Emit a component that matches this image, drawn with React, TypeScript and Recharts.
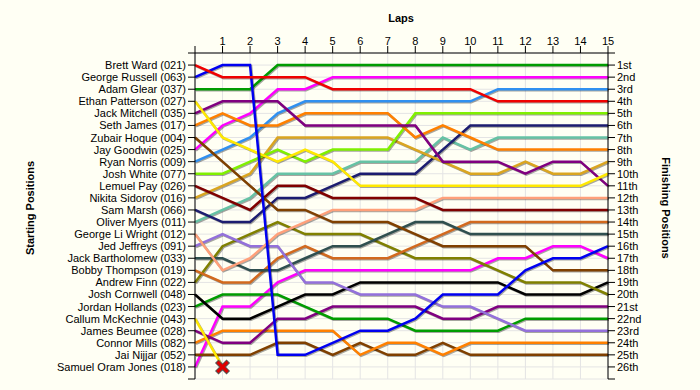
import { CartesianGrid, Line, LineChart, XAxis, YAxis } from "recharts";

const FONT = "'Liberation Sans', Arial, sans-serif";

const laps = [0, 1, 2, 3, 4, 5, 6, 7, 8, 9, 10, 11, 12, 13, 14, 15];
const positionTicks = [0, 1, 2, 3, 4, 5, 6, 7, 8, 9, 10, 11, 12, 13, 14, 15, 16, 17, 18, 19, 20, 21, 22, 23, 24, 25, 26, 27];

const startingNames = [
  "Brett Ward (021)",
  "George Russell (063)",
  "Adam Glear (037)",
  "Ethan Patterson (027)",
  "Jack Mitchell (035)",
  "Seth James (017)",
  "Zubair Hoque (004)",
  "Jay Goodwin (025)",
  "Ryan Norris (009)",
  "Josh White (077)",
  "Lemuel Pay (026)",
  "Nikita Sidorov (016)",
  "Sam Marsh (066)",
  "Oliver Myers (011)",
  "George Li Wright (012)",
  "Jed Jeffreys (091)",
  "Jack Bartholomew (033)",
  "Bobby Thompson (019)",
  "Andrew Finn (022)",
  "Josh Cornwell (048)",
  "Jordan Hollands (023)",
  "Callum McKechnie (043)",
  "James Beumee (028)",
  "Connor Mills (082)",
  "Jai Nijjar (052)",
  "Samuel Oram Jones (018)",
];

const finishingLabels = [
  "1st", "2nd", "3rd", "4th", "5th", "6th", "7th", "8th", "9th", "10th",
  "11th", "12th", "13th", "14th", "15th", "16th", "17th", "18th", "19th", "20th",
  "21st", "22nd", "23rd", "24th", "25th", "26th",
];

// position after each lap (lap 0 = grid)
const ward = [1, 2, 2, 2, 2, 3, 3, 3, 3, 3, 3, 4, 4, 4, 4, 4];
const russell = [2, 1, 1, 25, 25, 24, 23, 23, 22, 20, 20, 20, 18, 17, 17, 16];
const glear = [3, 3, 3, 1, 1, 1, 1, 1, 1, 1, 1, 1, 1, 1, 1, 1];
const patterson = [4, 7, 8, 9, 8, 9, 11, 11, 11, 11, 11, 11, 11, 11, 11, 10];
const mitchell = [5, 4, 4, 4, 6, 6, 6, 6, 6, 9, 9, 9, 10, 9, 9, 11];
const seth = [6, 5, 6, 6, 5, 5, 5, 5, 7, 6, 7, 8, 8, 8, 8, 8];
const hoque = [7, 9, 11, 13, 13, 14, 14, 14, 15, 16, 16, 16, 16, 18, 18, 18];
const goodwin = [8, 6, 5, 3, 3, 2, 2, 2, 2, 2, 2, 2, 2, 2, 2, 2];
const norris = [9, 8, 7, 5, 4, 4, 4, 4, 4, 4, 4, 3, 3, 3, 3, 3];
const white = [10, 10, 9, 8, 9, 8, 8, 8, 5, 5, 5, 5, 5, 5, 5, 5];
const pay = [11, 12, 13, 11, 11, 12, 12, 12, 12, 13, 13, 13, 13, 13, 13, 13];
const sidorov = [12, 11, 10, 7, 7, 7, 7, 7, 8, 9, 10, 10, 9, 10, 10, 9];
const marsh = [13, 14, 14, 12, 12, 11, 10, 10, 10, 8, 6, 6, 6, 6, 6, 6];
const myers = [14, 13, 12, 10, 10, 10, 9, 9, 9, 7, 8, 7, 7, 7, 7, 7];
const liWright = [15, 18, 17, 15, 14, 13, 13, 13, 13, 12, 12, 12, 12, 12, 12, 12];
const jeffreys = [16, 15, 16, 16, 19, 19, 20, 20, 20, 21, 21, 22, 23, 23, 23, 23];
const bartholomew = [17, 17, 18, 18, 17, 16, 16, 15, 14, 14, 15, 15, 15, 15, 15, 15];
const thompson = [18, 19, 19, 17, 16, 17, 17, 17, 16, 15, 14, 14, 14, 14, 14, 14];
const finn = [19, 16, 15, 14, 15, 15, 15, 16, 17, 17, 17, 18, 19, 19, 19, 20];
const cornwell = [20, 22, 22, 21, 20, 20, 19, 19, 19, 19, 19, 19, 20, 20, 20, 19];
const hollands = [21, 20, 20, 20, 21, 22, 22, 22, 23, 23, 23, 23, 22, 22, 22, 22];
const mckechnie = [22, 26]; // out on lap 1
const beumee = [23, 24, 24, 22, 22, 21, 21, 21, 21, 22, 22, 21, 21, 21, 21, 21];
const mills = [24, 23, 23, 23, 23, 23, 25, 24, 24, 25, 24, 24, 24, 24, 24, 24];
const nijjar = [25, 25, 25, 24, 24, 25, 24, 25, 25, 24, 25, 25, 25, 25, 25, 25];
const oramJones = [26, 21, 21, 19, 18, 18, 18, 18, 18, 18, 18, 17, 17, 16, 16, 17];

const series = [
  { key: "ward", color: "#f00000", values: ward },
  { key: "russell", color: "#0000f0", values: russell },
  { key: "glear", color: "#009c00", values: glear },
  { key: "patterson", color: "#ffe800", values: patterson },
  { key: "mitchell", color: "#800080", values: mitchell },
  { key: "seth", color: "#ff8000", values: seth },
  { key: "hoque", color: "#804000", values: hoque },
  { key: "goodwin", color: "#ff00ff", values: goodwin },
  { key: "norris", color: "#3090f0", values: norris },
  { key: "white", color: "#80f000", values: white },
  { key: "pay", color: "#800000", values: pay },
  { key: "sidorov", color: "#daa520", values: sidorov },
  { key: "marsh", color: "#1c1c70", values: marsh },
  { key: "myers", color: "#66c2a5", values: myers },
  { key: "liWright", color: "#ffa07a", values: liWright },
  { key: "jeffreys", color: "#9370db", values: jeffreys },
  { key: "bartholomew", color: "#2f4f4f", values: bartholomew },
  { key: "thompson", color: "#d2691e", values: thompson },
  { key: "finn", color: "#808000", values: finn },
  { key: "cornwell", color: "#000000", values: cornwell },
  { key: "hollands", color: "#009c00", values: hollands },
  { key: "mckechnie", color: "#ffe800", values: mckechnie },
  { key: "beumee", color: "#800080", values: beumee },
  { key: "mills", color: "#ff8000", values: mills },
  { key: "nijjar", color: "#804000", values: nijjar },
  { key: "oramJones", color: "#ff00ff", values: oramJones },
];

const rows = laps.map((lap, i) => {
  const row: Record<string, number | null> = { lap };
  series.forEach((s) => {
    row[s.key] = s.values[i] ?? null;
  });
  return row;
});

const css = `
body { margin: 0; }
.lap-chart .recharts-line-curve { filter: drop-shadow(1px 1.2px 0.4px rgba(0,0,0,0.35)); }
`;

function CrashDot(props: any) {
  const { cx, cy, index } = props;
  if (index !== 1 || cx == null || cy == null) return <g key={`c${index}`} />;
  const s = 4;
  const d = `M${cx - s},${cy - s}L${cx + s},${cy + s}M${cx - s},${cy + s}L${cx + s},${cy - s}`;
  return (
    <g key="crash">
      <path d={d} stroke="#555" strokeWidth={5} strokeLinecap="square" />
      <path d={d} stroke="#e00000" strokeWidth={3} strokeLinecap="square" />
    </g>
  );
}

// plain svg text so recharts doesn't wrap the long names
function makeTick(labels: string[], anchor: "start" | "end") {
  return (props: any) => {
    const { x, y, payload } = props;
    const label = labels[payload.value - 1];
    if (!label) return <g />;
    return (
      <text x={x} y={y} dy={4} textAnchor={anchor} fill="#000" fontSize={11} fontFamily={FONT}>
        {label}
      </text>
    );
  };
}

const StartTick = makeTick(startingNames, "end");
const FinishTick = makeTick(finishingLabels, "start");

const titleStyle: React.CSSProperties = {
  position: "absolute",
  fontFamily: FONT,
  fontSize: 11,
  fontWeight: "bold",
  color: "#000",
  whiteSpace: "nowrap",
};

export default function App() {
  return (
    <div className="lap-chart" style={{ position: "relative", width: 700, height: 390, background: "#fffff4" }}>
      <style>{css}</style>
      <LineChart width={700} height={390} data={rows} margin={{ top: 20, right: 42, bottom: 11, left: 50 }}>
        <CartesianGrid yAxisId="left" stroke="#e4e4e4" />
        <XAxis
          dataKey="lap"
          type="number"
          orientation="top"
          domain={[0, 15]}
          ticks={laps}
          interval={0}
          tickFormatter={(v) => (v === 0 ? "" : String(v))}
          height={33}
          tickSize={7}
          tickMargin={1}
          tick={{ fill: "#000", fontSize: 11, fontFamily: FONT }}
          axisLine={{ stroke: "#000" }}
          tickLine={{ stroke: "#000" }}
        />
        <YAxis
          yAxisId="left"
          type="number"
          domain={[0, 27]}
          reversed
          ticks={positionTicks}
          interval={0}
          width={145}
          tickSize={7}
          tickMargin={2}
          tick={StartTick}
          axisLine={{ stroke: "#000" }}
          tickLine={{ stroke: "#000" }}
        />
        <YAxis
          yAxisId="right"
          orientation="right"
          type="number"
          domain={[0, 27]}
          reversed
          ticks={positionTicks}
          interval={0}
          width={50}
          tickSize={7}
          tickMargin={2}
          tick={FinishTick}
          axisLine={{ stroke: "#000" }}
          tickLine={{ stroke: "#000" }}
        />
        {[...series].reverse().map((s) => (
          <Line
            key={s.key}
            // both axes share the same scale; the leader's line also feeds the right axis
            yAxisId={s.key === "ward" ? "right" : "left"}
            type="linear"
            dataKey={s.key}
            stroke={s.color}
            strokeWidth={2.5}
            dot={s.key === "mckechnie" ? CrashDot : false}
            activeDot={false}
            connectNulls={false}
            isAnimationActive={false}
          />
        ))}
      </LineChart>
      <div style={{ ...titleStyle, left: 401, top: 12, transform: "translateX(-50%)" }}>Laps</div>
      <div style={{ ...titleStyle, left: 30, top: 208, transform: "translate(-50%, -50%) rotate(-90deg)" }}>
        Starting Positions
      </div>
      <div style={{ ...titleStyle, left: 666, top: 208, transform: "translate(-50%, -50%) rotate(90deg)" }}>
        Finishing Positions
      </div>
    </div>
  );
}
